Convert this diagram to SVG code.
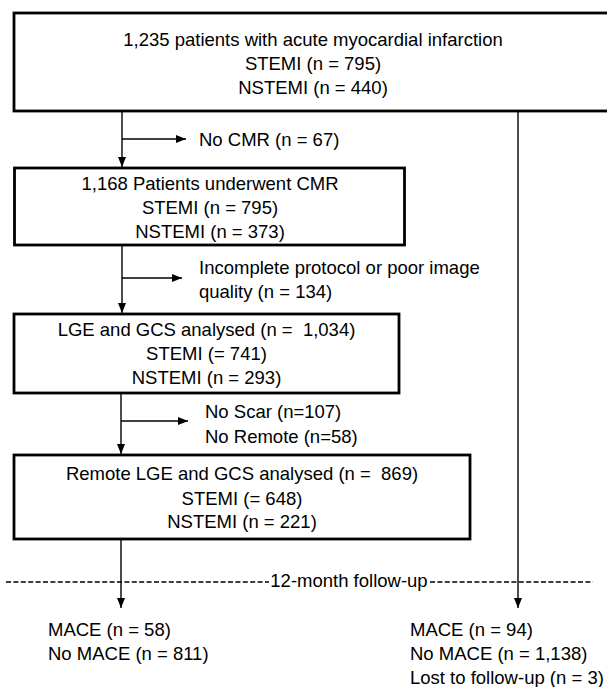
<svg xmlns="http://www.w3.org/2000/svg" width="607" height="687" viewBox="0 0 607 687">
<style>
text{font-family:"Liberation Sans",Arial,sans-serif;font-size:18.5px;fill:#000;white-space:pre}
.c{text-anchor:middle}
.box{fill:#fff;stroke:#000;stroke-width:2.8}
.ln{stroke:#000;stroke-width:1.4;fill:none}
.dash{stroke:#000;stroke-width:1.3;stroke-dasharray:5 2.4;fill:none}
</style>
<defs>
<marker id="ah" markerWidth="10" markerHeight="10" viewBox="0 0 10 10" refX="10" refY="5" orient="auto" markerUnits="userSpaceOnUse">
<path d="M0,1 L10,5 L0,9 Z" fill="#000"/>
</marker>
</defs>
<rect width="607" height="687" fill="#fff"/>
<g id="connectors">
<line class="ln" x1="122" y1="112" x2="122" y2="167" marker-end="url(#ah)"/>
<line class="ln" x1="122" y1="139" x2="186" y2="139" marker-end="url(#ah)"/>
<line class="ln" x1="122" y1="246" x2="122" y2="313" marker-end="url(#ah)"/>
<line class="ln" x1="122" y1="278" x2="182" y2="278" marker-end="url(#ah)"/>
<line class="ln" x1="121" y1="394" x2="121" y2="454" marker-end="url(#ah)"/>
<line class="ln" x1="121" y1="421" x2="188" y2="421" marker-end="url(#ah)"/>
<line class="ln" x1="121" y1="540" x2="121" y2="608" marker-end="url(#ah)"/>
<line class="ln" x1="518" y1="112" x2="518" y2="608" marker-end="url(#ah)"/>
</g>
<g id="followup">
<line class="dash" x1="6" y1="582" x2="269" y2="582"/>
<line class="dash" x1="430" y1="582" x2="593" y2="582"/>
<text x="349" y="587" class="c">12-month follow-up</text>
</g>
<g id="n1">
<rect class="box" x="14" y="13" width="600" height="98"/>
<text x="313" y="46" class="c">1,235 patients with acute myocardial infarction</text>
<text x="313" y="70" class="c">STEMI (n = 795)</text>
<text x="313" y="94" class="c">NSTEMI (n = 440)</text>
</g>
<g id="n_nocmr">
<text x="199" y="146">No CMR (n = 67)</text>
</g>
<g id="n2">
<rect class="box" x="14.5" y="168" width="390" height="77"/>
<text x="210" y="190" class="c">1,168 Patients underwent CMR</text>
<text x="210" y="214" class="c">STEMI (n = 795)</text>
<text x="210" y="238" class="c">NSTEMI (n = 373)</text>
</g>
<g id="n_incomplete">
<text x="199" y="274">Incomplete protocol or poor image</text>
<text x="199" y="298">quality (n = 134)</text>
</g>
<g id="n3">
<rect class="box" x="14" y="314" width="385" height="79"/>
<text x="206.5" y="336" class="c" xml:space="preserve">LGE and GCS analysed (n =  1,034)</text>
<text x="206.5" y="360" class="c">STEMI (= 741)</text>
<text x="206.5" y="384" class="c">NSTEMI (n = 293)</text>
</g>
<g id="n_noscar">
<text x="205" y="418">No Scar (n=107)</text>
<text x="205" y="443">No Remote (n=58)</text>
</g>
<g id="n4">
<rect class="box" x="14" y="455" width="456" height="84"/>
<text x="242" y="480" class="c" xml:space="preserve">Remote LGE and GCS analysed (n =  869)</text>
<text x="242" y="505" class="c">STEMI (= 648)</text>
<text x="242" y="528" class="c">NSTEMI (n = 221)</text>
</g>
<g id="n_left_outcome">
<text x="48" y="636">MACE (n = 58)</text>
<text x="48" y="660">No MACE (n = 811)</text>
</g>
<g id="n_right_outcome">
<text x="410" y="636">MACE (n = 94)</text>
<text x="410" y="660">No MACE (n = 1,138)</text>
<text x="410" y="684">Lost to follow-up (n = 3)</text>
</g>
</svg>
